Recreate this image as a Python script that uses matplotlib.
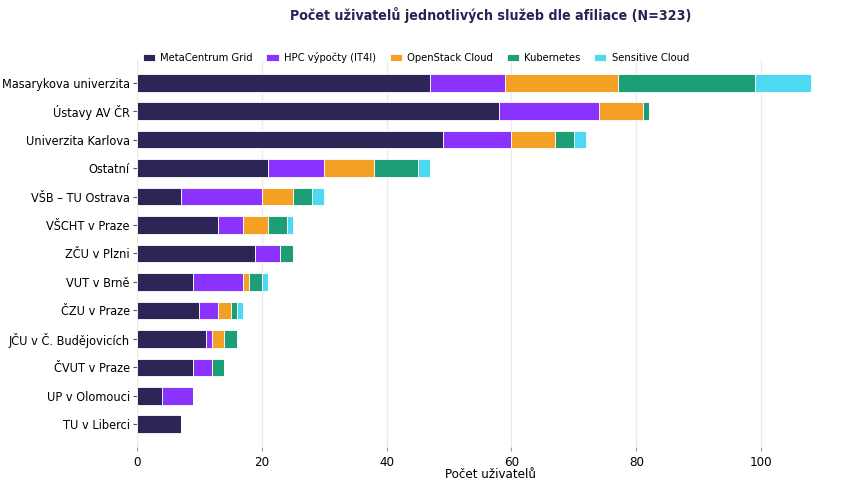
import numpy as np
import matplotlib.pyplot as plt

plt.rcParams['font.family'] = 'DejaVu Sans'
plt.rcParams['font.stretch'] = 'condensed'

categories = ["Masarykova univerzita", "Ústavy AV ČR", "Univerzita Karlova", "Ostatní",
              "VŠB – TU Ostrava", "VŠCHT v Praze", "ZČU v Plzni", "VUT v Brně",
              "ČZU v Praze", "JČU v Č. Budějovicích", "ČVUT v Praze", "UP v Olomouci",
              "TU v Liberci"]
services = ["MetaCentrum Grid", "HPC výpočty (IT4I)", "OpenStack Cloud", "Kubernetes", "Sensitive Cloud"]
metacentrum = [47, 58, 49, 21, 7, 13, 19, 9, 10, 11, 9, 4, 7]
hpc = [12, 16, 11, 9, 13, 4, 4, 8, 3, 1, 3, 5, 0]
openstack = [18, 7, 7, 8, 5, 4, 0, 1, 2, 2, 0, 0, 0]
kubernetes = [22, 1, 3, 7, 3, 3, 2, 2, 1, 2, 2, 0, 0]
sensitive = [9, 0, 2, 2, 2, 1, 0, 1, 1, 0, 0, 0, 0]
colors = ["#2e2557", "#8a33ff", "#f4a024", "#1e9e76", "#4dd9f2"]

series = [metacentrum, hpc, openstack, kubernetes, sensitive]

fig = plt.figure(figsize=(8.5, 4.87), dpi=100)
ax = fig.add_axes([0.161, 0.082, 0.833, 0.795])

y = np.arange(len(categories))
left = np.zeros(len(categories))
for name, vals, c in zip(services, series, colors):
    vals = np.array(vals, dtype=float)
    ax.barh(y, vals, left=left, height=0.62, color=c, edgecolor="white",
            linewidth=0.6, label=name, zorder=3)
    left += vals

ax.set_yticks(y)
ax.set_yticklabels(categories, fontsize=9.1)
ax.set_ylim(12.8, -0.8)
ax.set_xlim(0, 113.4)
ax.set_xticks([0, 20, 40, 60, 80, 100])
ax.tick_params(axis="x", labelsize=9.5, length=3, color="#999999")
ax.tick_params(axis="y", length=3, pad=2, color="#555555")
ax.set_xlabel("Počet uživatelů", fontsize=9.5, labelpad=-1)
ax.grid(axis="x", color="#ebebeb", linewidth=1, zorder=0)
for s in ax.spines.values():
    s.set_visible(False)

ax.legend(ncol=5, frameon=False, loc="center left", bbox_to_anchor=(0.002, 1.005),
          fontsize=8.0, handlelength=1.1, handleheight=0.6, columnspacing=1.2,
          handletextpad=0.5, borderaxespad=0)
fig.text(0.577, 0.97, "Počet uživatelů jednotlivých služeb dle afiliace (N=323)",
         ha="center", va="center", fontsize=10.2, fontweight="bold", color="#2b2355")

fig.savefig("out.png", dpi=100)
